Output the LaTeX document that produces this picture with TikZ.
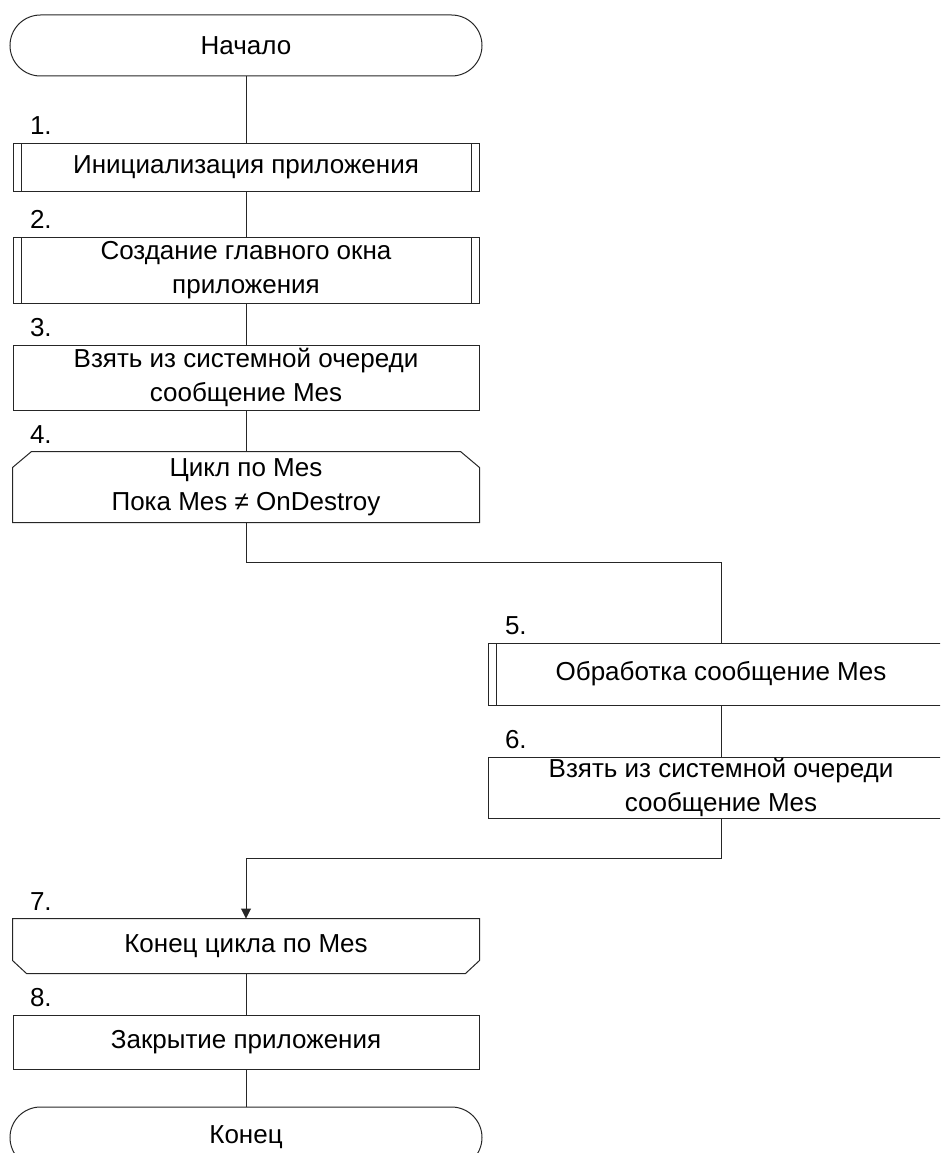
\documentclass[tikz,border=0pt]{standalone}
\usepackage{fontspec}
\setmainfont{Liberation Sans}
\usetikzlibrary{arrows.meta}
\begin{document}
\begin{tikzpicture}[x=1pt,y=-1pt,
  line width=1pt,
  every node/.style={font=\fontsize{26}{34}\selectfont},
  block/.style={draw=black!85, rectangle, minimum width=466pt, inner sep=0pt, align=center},
  terminal/.style={draw=black!85, rectangle, rounded corners=30.5pt, minimum width=472pt, minimum height=61pt, inner sep=0pt},
  predef/.style={block, path picture={
      \draw[black!85, line width=1pt]
        ([xshift=8pt]path picture bounding box.north west) -- ([xshift=8pt]path picture bounding box.south west)
        ([xshift=-8pt]path picture bounding box.north east) -- ([xshift=-8pt]path picture bounding box.south east);}},
  loopbox/.style={block, draw=none},
  twoline/.style={text depth=4pt},
  num/.style={anchor=base west, inner sep=0pt},
  link/.style={draw=black!85},
]
\useasboundingbox (0,0) rectangle (940,1153);
\clip (0,0) rectangle (940,1153);

% main column
\node[terminal] (start) at (246,45.5) {Начало};
\node[predef, minimum height=48pt] (n1) at (246,167) {Инициализация приложения};
\node[predef, minimum height=66pt] (n2) at (246,270) {Создание главного окна\\приложения};
\node[block, minimum height=65pt] (n3) at (246,377.5) {Взять из системной очереди\\сообщение Mes};
\node[loopbox, minimum height=70pt] (n4) at (246,487) {Цикл по Mes\\Пока Mes ≠ OnDestroy};

% loop body
\node[predef, minimum height=62pt] (n5) at (721,674) {Обработка сообщение Mes};
\node[block, minimum height=61pt] (n6) at (721,787.5) {Взять из системной очереди\\сообщение Mes};

% after the loop
\node[loopbox, minimum height=54pt] (n7) at (246,946) {Конец цикла по Mes};
\node[block, minimum height=54pt] (n8) at (246,1042) {Закрытие приложения};
\node[terminal] (end) at (246,1137.5) {Конец};

% loop limit outlines
\draw[black!85] (n4.south west) -- ([yshift=-16pt]n4.north west) -- ([xshift=19pt]n4.north west)
  -- ([xshift=-19pt]n4.north east) -- ([yshift=-16pt]n4.north east) -- (n4.south east) -- cycle;
\draw[black!85] (n7.north west) -- ([yshift=13pt]n7.south west) -- ([xshift=14pt]n7.south west)
  -- ([xshift=-14pt]n7.south east) -- ([yshift=13pt]n7.south east) -- (n7.north east) -- cycle;

% step numbers
\foreach \n/\t in {n1/1., n2/2., n3/3., n4/4., n5/5., n6/6., n7/7., n8/8.}
  \node[num] (lab-\n) at ([xshift=17pt,yshift=8pt]\n.north west) {\t};

% connectors
\coordinate (j1) at (246,562);
\coordinate (j2) at (721,858);
\draw[link] (start) -- (n1);
\draw[link] (n1) -- (n2);
\draw[link] (n2) -- (n3);
\draw[link] (n3) -- (n4);
\draw[link] (n4.south) -- (j1) -| (n5.north);
\draw[link] (n5) -- (n6);
\draw[link, -{Triangle[length=10pt,width=10pt]}] (n6.south) |- (j2 -| n7.north) -- (n7.north);
\draw[link] (n7) -- (n8);
\draw[link] (n8) -- (end);
\end{tikzpicture}
\end{document}
